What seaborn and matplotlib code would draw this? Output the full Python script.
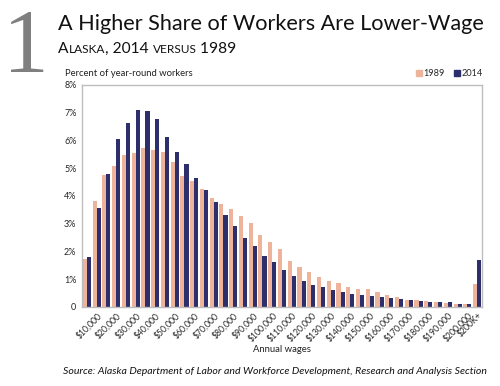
import pandas as pd
import seaborn as sns
import matplotlib
matplotlib.use("Agg")
import matplotlib.pyplot as plt
from matplotlib.patches import Patch
from matplotlib.offsetbox import TextArea, HPacker, AnchoredOffsetbox


wages = ["$5,000", "$10,000", "$15,000", "$20,000", "$25,000", "$30,000", "$35,000",
         "$40,000", "$45,000", "$50,000", "$55,000", "$60,000", "$65,000", "$70,000",
         "$75,000", "$80,000", "$85,000", "$90,000", "$95,000", "$100,000", "$105,000",
         "$110,000", "$115,000", "$120,000", "$125,000", "$130,000", "$135,000",
         "$140,000", "$145,000", "$150,000", "$155,000", "$160,000", "$165,000",
         "$170,000", "$175,000", "$180,000", "$185,000", "$190,000", "$195,000",
         "$200,000", "$200K+"]

pct_1989 = [1.74, 3.81, 4.74, 5.09, 5.47, 5.56, 5.74, 5.67, 5.59, 5.21, 4.73,
            4.54, 4.25, 3.94, 3.70, 3.51, 3.29, 3.03, 2.60, 2.35, 2.10, 1.66,
            1.43, 1.26, 1.09, 0.92, 0.85, 0.71, 0.64, 0.66, 0.54, 0.42, 0.34,
            0.25, 0.23, 0.20, 0.17, 0.14, 0.12, 0.12, 0.82]

pct_2014 = [1.80, 3.57, 4.79, 6.04, 6.61, 7.11, 7.07, 6.77, 6.12, 5.57, 5.15,
            4.66, 4.23, 3.78, 3.31, 2.91, 2.47, 2.18, 1.82, 1.60, 1.34, 1.13,
            0.95, 0.80, 0.70, 0.62, 0.53, 0.48, 0.42, 0.38, 0.36, 0.31, 0.30,
            0.24, 0.22, 0.19, 0.17, 0.16, 0.12, 0.12, 1.68]

years = ["1989", "2014"]
colors = ["#EDB49B", "#2C2F6C"]
y_ticks = [0, 1, 2, 3, 4, 5, 6, 7, 8]
y_labels = ["0", "1%", "2%", "3%", "4%", "5%", "6%", "7%", "8%"]

df = pd.concat([
    pd.DataFrame({"wage": wages, "year": "1989", "pct": pct_1989}),
    pd.DataFrame({"wage": wages, "year": "2014", "pct": pct_2014}),
])

sns.set_style("white")
plt.rcParams["font.family"] = ["Lato", "DejaVu Sans"]

fig = plt.figure(figsize=(5, 3.86), dpi=100)
ax = fig.add_axes([0.164, 0.205, 0.8, 0.575])

sns.barplot(data=df, x="wage", y="pct", hue="year", palette=colors,
            hue_order=years, order=wages, width=0.84, saturation=1,
            linewidth=0, legend=False, ax=ax)

ax.set_xlim(-0.5, len(wages) - 0.5)
ax.set_ylim(0, 8)
ax.set_yticks(y_ticks)
ax.set_yticklabels(y_labels, fontsize=6.5)
ax.tick_params(axis="y", length=0, pad=4)

# every other bin gets a label, plus the open-ended last one
xt_labels = [w if (i % 2 == 1 or i == len(wages) - 1) else "" for i, w in enumerate(wages)]
ax.set_xticks(range(len(wages)))
ax.set_xticklabels(xt_labels, rotation=45, ha="right", rotation_mode="anchor",
                   fontsize=6.2)
ax.tick_params(axis="x", length=0, pad=3)
ax.set_xlabel("")
ax.set_ylabel("")
for s in ax.spines.values():
    s.set_color("#bdbdbd")
    s.set_linewidth(1)

# big chapter number
fig.text(3 / 500, 1 - 72 / 386, "1", fontsize=66, color="#7f7f7f",
         family="Liberation Serif", ha="left", va="baseline")

fig.text(58 / 500, 1 - 30 / 386, "A Higher Share of Workers Are Lower-Wage",
         fontsize=15.6, color="#111111", ha="left", va="baseline")

# small caps subtitle
big, small = 11.2, 8.6
parts = [("A", big), ("LASKA", small), (", 2014 ", big), ("VERSUS", small), (" 1989", big)]
boxes = [TextArea(t, textprops=dict(fontsize=fs, color="#111111")) for t, fs in parts]
pack = HPacker(children=boxes, align="baseline", pad=0, sep=0)
anch = AnchoredOffsetbox(loc="lower left", child=pack, frameon=False, pad=0,
                         borderpad=0, bbox_to_anchor=(58 / 500, 1 - 56 / 386),
                         bbox_transform=fig.transFigure)
fig.add_artist(anch)

fig.text(65 / 500, 1 - 74 / 386, "Percent of year-round workers", fontsize=6.8,
         ha="left", va="center", color="#222222")

handles = [Patch(color=c, label=y) for c, y in zip(colors, years)]
fig.legend(handles=handles, loc="center right", bbox_to_anchor=(0.975, 1 - 74 / 386),
           ncol=2, frameon=False, fontsize=6.6, handlelength=0.6, handleheight=0.6,
           handletextpad=0.2, columnspacing=1.0, borderpad=0)

fig.text(282 / 500, 1 - 350 / 386, "Annual wages", fontsize=6.8, ha="center",
         va="center", color="#222222")

fig.text(275 / 500, 1 - 371 / 386,
         "Source: Alaska Department of Labor and Workforce Development, Research and Analysis Section",
         fontsize=7.55, style="italic", ha="center", va="center", color="#111111")

fig.savefig("out.png", dpi=100)
